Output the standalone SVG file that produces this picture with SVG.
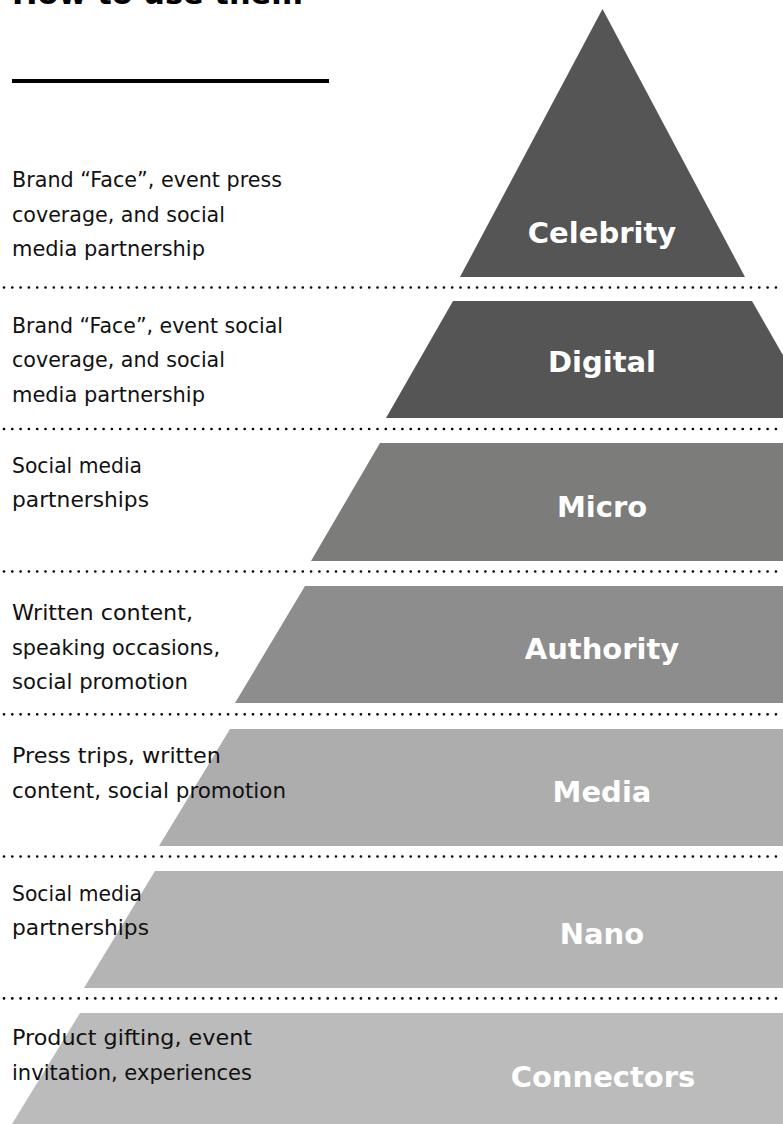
<svg xmlns="http://www.w3.org/2000/svg" width="783" height="1124" viewBox="0 0 783 1124">
  <style>
    .title { font-family: "DejaVu Sans", "Liberation Sans", sans-serif; font-weight: bold; font-size: 31px; fill: #000; }
    .desc { font-family: "DejaVu Sans", "Liberation Sans", sans-serif; font-size: 20.8px; fill: #111; }
    .label { font-family: "DejaVu Sans", "Liberation Sans", sans-serif; font-weight: bold; font-size: 29px; fill: #fff; text-anchor: middle; }
    .sep { stroke: #000; stroke-width: 2.7; stroke-linecap: round; stroke-dasharray: 0 8.3; fill: none; }
  </style>
  <rect width="783" height="1124" fill="#fff"/>

  <!-- heading, clipped by the top edge -->
  <text class="title" x="12" y="4" textLength="291" lengthAdjust="spacingAndGlyphs">How to use them</text>
  <rect x="12" y="79" width="317" height="4" fill="#000"/>

  <!-- dotted separators -->
  <g id="connectors">
    <line class="sep" x1="4" y1="287.5" x2="783" y2="287.5"/>
    <line class="sep" x1="4" y1="429" x2="783" y2="429"/>
    <line class="sep" x1="4" y1="571.5" x2="783" y2="571.5"/>
    <line class="sep" x1="4" y1="714.3" x2="783" y2="714.3"/>
    <line class="sep" x1="4" y1="856.5" x2="783" y2="856.5"/>
    <line class="sep" x1="4" y1="998.4" x2="783" y2="998.4"/>
  </g>

  <g id="celebrity">
    <polygon points="602.5,9 460,277 745,277" fill="#555555"/>
    <text class="label" x="602" y="243">Celebrity</text>
    <text class="desc" x="12" y="187" textLength="270" lengthAdjust="spacingAndGlyphs">Brand “Face”, event press</text>
    <text class="desc" x="12" y="221.5" textLength="213" lengthAdjust="spacingAndGlyphs">coverage, and social</text>
    <text class="desc" x="12" y="256" textLength="193" lengthAdjust="spacingAndGlyphs">media partnership</text>
  </g>

  <g id="digital">
    <polygon points="453,301 752,301 819,418 386,418" fill="#555555"/>
    <text class="label" x="602" y="372">Digital</text>
    <text class="desc" x="12" y="332.5" textLength="271" lengthAdjust="spacingAndGlyphs">Brand “Face”, event social</text>
    <text class="desc" x="12" y="367" textLength="213" lengthAdjust="spacingAndGlyphs">coverage, and social</text>
    <text class="desc" x="12" y="401.5" textLength="193" lengthAdjust="spacingAndGlyphs">media partnership</text>
  </g>

  <g id="micro">
    <polygon points="380,443 825,443 894,561 311,561" fill="#7c7c7b"/>
    <text class="label" x="602" y="517">Micro</text>
    <text class="desc" x="12" y="473" textLength="130" lengthAdjust="spacingAndGlyphs">Social media</text>
    <text class="desc" x="12" y="507" textLength="137" lengthAdjust="spacingAndGlyphs">partnerships</text>
  </g>

  <g id="authority">
    <polygon points="305,586 900,586 970,703 235,703" fill="#8d8d8d"/>
    <text class="label" x="602" y="659">Authority</text>
    <text class="desc" x="12" y="620" textLength="181" lengthAdjust="spacingAndGlyphs">Written content,</text>
    <text class="desc" x="12" y="654.5" textLength="208" lengthAdjust="spacingAndGlyphs">speaking occasions,</text>
    <text class="desc" x="12" y="689" textLength="176" lengthAdjust="spacingAndGlyphs">social promotion</text>
  </g>

  <g id="media">
    <polygon points="230,729 975,729 1046,846 159,846" fill="#adadad"/>
    <text class="label" x="602" y="802">Media</text>
    <text class="desc" x="12" y="762.5" textLength="209" lengthAdjust="spacingAndGlyphs">Press trips, written</text>
    <text class="desc" x="12" y="797.5" textLength="274" lengthAdjust="spacingAndGlyphs">content, social promotion</text>
  </g>

  <g id="nano">
    <polygon points="155,871 1050,871 1121,988 84,988" fill="#b4b4b4"/>
    <text class="label" x="602" y="944">Nano</text>
    <text class="desc" x="12" y="901" textLength="130" lengthAdjust="spacingAndGlyphs">Social media</text>
    <text class="desc" x="12" y="935" textLength="137" lengthAdjust="spacingAndGlyphs">partnerships</text>
  </g>

  <g id="connectors-tier">
    <polygon points="80,1013 1125,1013 1193,1124 12,1124" fill="#bbbbbb"/>
    <text class="label" x="603" y="1087">Connectors</text>
    <text class="desc" x="12" y="1045" textLength="240" lengthAdjust="spacingAndGlyphs">Product gifting, event</text>
    <text class="desc" x="12" y="1080" textLength="240" lengthAdjust="spacingAndGlyphs">invitation, experiences</text>
  </g>
</svg>
